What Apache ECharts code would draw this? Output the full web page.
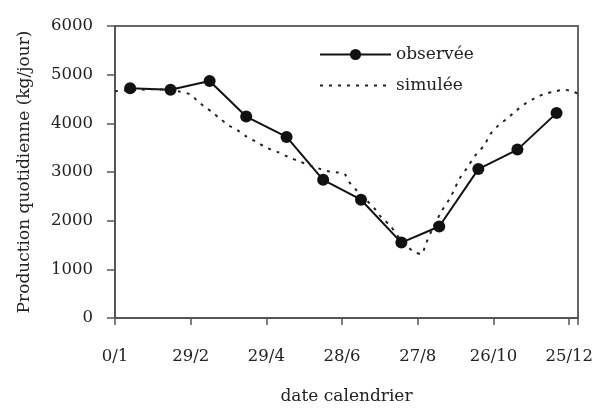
<!DOCTYPE html>
<html>
<head>
<meta charset="utf-8">
<script src="https://cdn.jsdelivr.net/npm/echarts@6/dist/echarts.min.js"></script>
<style>html,body{margin:0;padding:0;background:#fff}#c{width:597px;height:410px}</style>
</head>
<body>
<div id="c"></div>
<script>
var xTickLabels = {0:'0/1',60:'29/2',120:'29/4',180:'28/6',240:'27/8',300:'26/10',360:'25/12'};
var obsDays   = [12, 44, 75, 104, 136, 165, 195, 227, 257, 288, 319, 350];
var obsValues = [4720, 4690, 4870, 4140, 3720, 2840, 2430, 1550, 1880, 3060, 3460, 4210];
var simDays   = [0, 10, 20, 30, 40, 50, 60, 65, 70, 77, 83, 90, 97, 104, 112, 121, 129, 138, 146, 155, 163, 170, 177, 182, 186, 192, 199, 206, 211, 218, 226, 232, 238, 243, 246, 252, 259, 265, 269, 273, 279, 285, 293, 297, 304, 311, 318, 325, 333, 340, 348, 356, 362, 367];
var simValues = [4660, 4680, 4690, 4700, 4690, 4660, 4590, 4470, 4360, 4230, 4100, 3960, 3860, 3730, 3620, 3490, 3410, 3300, 3220, 3130, 3060, 3010, 2990, 2960, 2780, 2610, 2430, 2240, 2070, 1900, 1620, 1460, 1350, 1310, 1500, 1850, 2200, 2440, 2640, 2860, 3080, 3320, 3560, 3760, 3960, 4100, 4260, 4400, 4520, 4600, 4650, 4690, 4660, 4610];

var obsData = obsDays.map(function(d,i){return [d, obsValues[i]];});
var simData = simDays.map(function(d,i){return [d, simValues[i]];});

var font = 'DejaVu Serif';
var txt = '#222';
var chart = echarts.init(document.getElementById('c'));
chart.setOption({
  animation: false,
  backgroundColor: '#fff',
  grid: {left: 115, right: 19, top: 26, bottom: 88, show: true, borderColor: '#666', borderWidth: 2, containLabel: false},
  legend: {
    orient: 'vertical', left: 314, top: 41, itemWidth: 71, itemHeight: 14, itemGap: 14,
    textStyle: {fontFamily: font, fontSize: 17, color: txt},
    data: [
      {name: 'observée'},
      {name: 'simulée', itemStyle: {opacity: 0}}
    ]
  },
  xAxis: {
    type: 'value', min: 0, max: 367, interval: 60,
    name: 'date calendrier', nameLocation: 'middle', nameGap: 70,
    nameTextStyle: {fontFamily: font, fontSize: 17, color: txt},
    axisLine: {show: true, lineStyle: {color: '#555', width: 2}},
    axisTick: {show: true, inside: false, length: 7, lineStyle: {color: '#555', width: 1.5}},
    axisLabel: {fontFamily: font, fontSize: 16.5, color: txt, margin: 30,
      formatter: function(v){ return xTickLabels[v] !== undefined ? xTickLabels[v] : ''; }},
    splitLine: {show: false}
  },
  yAxis: {
    type: 'value', min: 0, max: 6000, interval: 1000,
    name: 'Production quotidienne (kg/jour)', nameLocation: 'middle', nameGap: 82, nameRotate: 90,
    nameTextStyle: {fontFamily: font, fontSize: 17, color: txt},
    axisLine: {show: true, lineStyle: {color: '#555', width: 2}},
    axisTick: {show: true, inside: false, length: 8, lineStyle: {color: '#555', width: 1.5}},
    axisLabel: {fontFamily: font, fontSize: 16.5, color: txt, margin: 22,
      formatter: function(v){ return String(v); }},
    splitLine: {show: false}
  },
  series: [
    {
      name: 'observée', type: 'line', data: obsData,
      symbol: 'circle', symbolSize: 12, showSymbol: true,
      lineStyle: {color: '#111', width: 2},
      itemStyle: {color: '#111'}
    },
    {
      name: 'simulée', type: 'line', data: simData,
      symbol: 'none', smooth: 0.3,
      lineStyle: {color: '#222', width: 2, type: [3, 6]},
      itemStyle: {color: '#222'}
    }
  ]
});
</script>
</body>
</html>
